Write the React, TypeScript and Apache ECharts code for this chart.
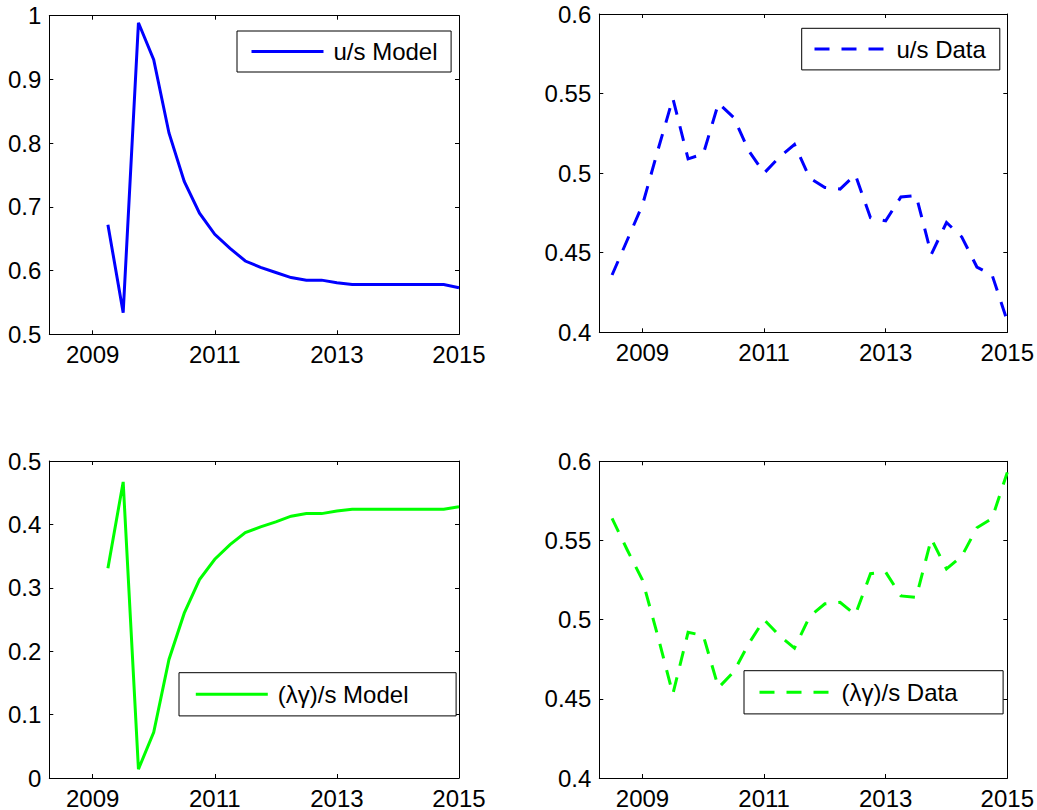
import React, { useEffect, useRef } from "react";
import * as echarts from "echarts";

// Quarterly dates (decimal years)
const dataQuarters = [
  2008.5, 2008.75, 2009.0, 2009.25, 2009.5, 2009.75, 2010.0, 2010.25, 2010.5,
  2010.75, 2011.0, 2011.25, 2011.5, 2011.75, 2012.0, 2012.25, 2012.5, 2012.75,
  2013.0, 2013.25, 2013.5, 2013.75, 2014.0, 2014.25, 2014.5, 2014.75, 2015.0,
];
const modelQuarters = [
  2009.25, 2009.5, 2009.75, 2010.0, 2010.25, 2010.5, 2010.75, 2011.0, 2011.25,
  2011.5, 2011.75, 2012.0, 2012.25, 2012.5, 2012.75, 2013.0, 2013.25, 2013.5,
  2013.75, 2014.0, 2014.25, 2014.5, 2014.75, 2015.0,
];

const usModel = [
  0.672, 0.534, 0.989, 0.931, 0.816, 0.74, 0.69, 0.657, 0.635, 0.615, 0.605,
  0.597, 0.589, 0.585, 0.585, 0.581, 0.578, 0.578, 0.578, 0.578, 0.578, 0.578,
  0.578, 0.573,
];
const lgModel = [
  0.331, 0.467, 0.014, 0.072, 0.187, 0.26, 0.313, 0.345, 0.368, 0.387, 0.396,
  0.404, 0.413, 0.417, 0.417, 0.421, 0.424, 0.424, 0.424, 0.424, 0.424, 0.424,
  0.424, 0.428,
];
const usData = [
  0.436, 0.458, 0.48, 0.514, 0.547, 0.509, 0.512, 0.544, 0.535, 0.514, 0.5,
  0.51, 0.518, 0.497, 0.491, 0.49, 0.499, 0.472, 0.47, 0.485, 0.486, 0.449,
  0.469, 0.46, 0.441, 0.436, 0.407,
];
const lgData = [
  0.564, 0.544, 0.525, 0.49, 0.453, 0.492, 0.49, 0.457, 0.467, 0.485, 0.5,
  0.49, 0.482, 0.502, 0.51, 0.511, 0.503, 0.529, 0.53, 0.515, 0.514, 0.551,
  0.532, 0.54, 0.558, 0.564, 0.593,
];

const xTicks = [2009, 2011, 2013, 2015];
const X_MIN = 2008.29;
const X_MAX = 2015;

const FONT = "'Liberation Sans', Arial, Helvetica, sans-serif";
const FS = 24;
const BLUE = "#0000ff";
const GREEN = "#00ff00";

function zip(xs: number[], ys: number[]) {
  return xs.map((x, i) => [x, ys[i]]);
}

export default function App() {
  const ref = useRef<HTMLDivElement>(null);

  useEffect(() => {
    if (!ref.current) return;
    const chart = echarts.init(ref.current, null, { renderer: "svg" });

    const grids = [
      { left: 49.3, top: 15.7, width: 409.7, height: 318.6 },
      { left: 599.3, top: 14, width: 410, height: 318.3 },
      { left: 49.3, top: 461, width: 409.7, height: 317.7 },
      { left: 599.3, top: 461.3, width: 410, height: 317.7 },
    ];
    const yRanges = [
      { min: 0.5, max: 1, interval: 0.1 },
      { min: 0.4, max: 0.6, interval: 0.05 },
      { min: 0, max: 0.5, interval: 0.1 },
      { min: 0.4, max: 0.6, interval: 0.05 },
    ];

    const axisLine = { show: true, onZero: false, lineStyle: { color: "#000", width: 1 } };
    const xAxes: any[] = [];
    const yAxes: any[] = [];
    grids.forEach((_, g) => {
      xAxes.push({
        type: "value",
        gridIndex: g,
        position: "bottom",
        min: X_MIN,
        max: X_MAX,
        axisLine,
        splitLine: { show: false },
        axisTick: { show: true, inside: true, length: 4, customValues: xTicks, lineStyle: { color: "#000" } },
        axisLabel: {
          show: true,
          customValues: xTicks,
          margin: 8,
          color: "#000",
          fontSize: FS,
          fontFamily: FONT,
          formatter: (v: number) => String(Math.round(v)),
        },
      });
      xAxes.push({
        type: "value",
        gridIndex: g,
        position: "top",
        min: X_MIN,
        max: X_MAX,
        axisLine,
        splitLine: { show: false },
        axisTick: { show: true, inside: true, length: 4, customValues: xTicks, lineStyle: { color: "#000" } },
        axisLabel: { show: false },
      });
      const r = yRanges[g];
      yAxes.push({
        type: "value",
        gridIndex: g,
        position: "left",
        min: r.min,
        max: r.max,
        interval: r.interval,
        axisLine,
        splitLine: { show: false },
        axisTick: { show: true, inside: true, length: 4, lineStyle: { color: "#000" } },
        axisLabel: { show: true, margin: 8, color: "#000", fontSize: FS, fontFamily: FONT },
      });
      yAxes.push({
        type: "value",
        gridIndex: g,
        position: "right",
        min: r.min,
        max: r.max,
        interval: r.interval,
        axisLine,
        splitLine: { show: false },
        axisTick: { show: true, inside: true, length: 4, lineStyle: { color: "#000" } },
        axisLabel: { show: false },
      });
    });

    const mkLegend = (
      name: string,
      left: number,
      top: number,
      padL: number,
      textW: number,
      padR: number,
      padV: number
    ) => ({
      data: [name],
      left,
      top,
      orient: "horizontal",
      itemWidth: 72,
      itemHeight: 14,
      padding: [padV, padR, padV, padL],
      borderColor: "#000",
      borderWidth: 1,
      backgroundColor: "#fff",
      selectedMode: false,
      itemStyle: { opacity: 0 },
      lineStyle: { width: 3 },
      textStyle: {
        color: "#000",
        fontSize: FS,
        fontFamily: FONT,
        lineHeight: 24,
        width: textW,
        padding: [0, 0, 0, 5],
      },
    });

    const lineSeries = (
      name: string,
      xs: number[],
      ys: number[],
      idx: number,
      color: string,
      dashed: boolean
    ) => ({
      name,
      type: "line",
      xAxisIndex: idx * 2,
      yAxisIndex: idx * 2,
      data: zip(xs, ys),
      symbol: "none",
      showSymbol: false,
      clip: true,
      lineStyle: {
        color,
        width: 3,
        type: dashed ? [15, 12] : "solid",
        cap: "butt",
        join: "miter",
      },
      itemStyle: { color },
    });

    chart.setOption({
      animation: false,
      backgroundColor: "#fff",
      grid: grids.map((g) => ({ ...g, containLabel: false })),
      xAxis: xAxes,
      yAxis: yAxes,
      legend: [
        mkLegend("u/s Model", 237, 31, 13, 112, 5.6, 8.5),
        mkLegend("u/s Data", 801.7, 28.3, 11.3, 98, 5.3, 8.8),
        mkLegend("(λγ)/s Model", 179, 672.7, 15.3, 172, 6.3, 9.6),
        mkLegend("(λγ)/s Data", 744, 670.7, 14, 155, 6.6, 9.6),
      ],
      series: [
        lineSeries("u/s Model", modelQuarters, usModel, 0, BLUE, false),
        lineSeries("u/s Data", dataQuarters, usData, 1, BLUE, true),
        lineSeries("(λγ)/s Model", modelQuarters, lgModel, 2, GREEN, false),
        lineSeries("(λγ)/s Data", dataQuarters, lgData, 3, GREEN, true),
      ],
    });

    return () => chart.dispose();
  }, []);

  return (
    <div
      ref={ref}
      style={{ position: "absolute", left: 0, top: 0, width: 1037, height: 810, background: "#fff" }}
    />
  );
}
